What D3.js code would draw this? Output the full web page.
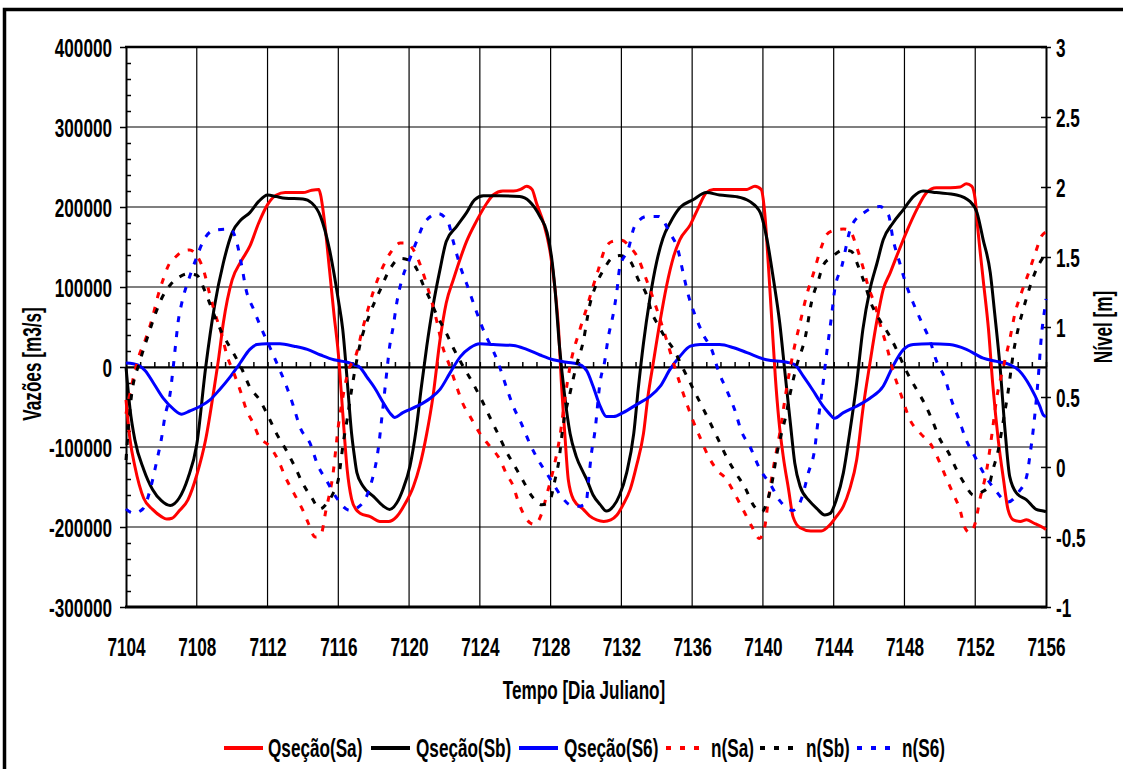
<!DOCTYPE html>
<html><head><meta charset="utf-8">
<script src="https://cdn.jsdelivr.net/npm/d3@7"></script>
<style>
body{margin:0;background:#fff}
svg{display:block}
text{font-family:"Liberation Sans",Arial,sans-serif;font-weight:bold;fill:#000}
</style>
</head><body>
<svg id="c" width="1123" height="769"></svg>
<script>
// ---------------- DATA ----------------
const dayTicks = [7104,7108,7112,7116,7120,7124,7128,7132,7136,7140,7144,7148,7152,7156];
const qTicks = [-300000,-200000,-100000,0,100000,200000,300000,400000];
const nTicks = [-1,-0.5,0,0.5,1,1.5,2,2.5,3];
const seriesNames = ["Qseção(Sa)","Qseção(Sb)","Qseção(S6)","n(Sa)","n(Sb)","n(S6)"];

// Qseção(Sa) [day, m3/s]
const qSa = [[7104,-41000],[7104.23,-91000],[7104.5,-124000],[7105,-164000],[7105.5,-178000],[7106,-187000],[7106.3,-190000],[7106.6,-189000],[7107,-180000],[7107.5,-166000],[7108,-135000],[7108.5,-91000],[7109,-24000],[7109.25,13000],[7109.5,55000],[7110,109000],[7110.5,132000],[7111,151000],[7111.5,180000],[7112,203000],[7112.5,215000],[7113,218000],[7113.5,218000],[7114,218000],[7114.5,221000],[7114.9,222000],[7115,215000],[7115.25,176000],[7115.5,122000],[7115.75,67000],[7116,17000],[7116.25,-57000],[7116.5,-128000],[7116.75,-165000],[7117,-178000],[7117.25,-183000],[7117.8,-187000],[7118.35,-193000],[7118.85,-193000],[7119.3,-187000],[7119.75,-172000],[7120.25,-149000],[7120.6,-124000],[7121,-83000],[7121.35,-37000],[7121.75,34000],[7122.1,80000],[7122.5,109000],[7122.9,136000],[7123.25,157000],[7123.8,182000],[7124.4,205000],[7124.75,215000],[7125.3,220000],[7125.9,220000],[7126.3,222000],[7126.65,226000],[7126.95,222000],[7127.2,205000],[7127.6,180000],[7127.95,147000],[7128.25,97000],[7128.45,47000],[7128.6,-16000],[7128.8,-83000],[7129,-141000],[7129.3,-166000],[7129.85,-178000],[7130.2,-186000],[7130.6,-191000],[7131,-193000],[7131.4,-191000],[7131.75,-185000],[7132.1,-172000],[7132.5,-153000],[7132.85,-124000],[7133.25,-83000],[7133.5,-37000],[7133.8,5000],[7134.2,59000],[7134.55,101000],[7134.95,138000],[7135.3,159000],[7135.9,178000],[7136.35,199000],[7136.8,218000],[7137.2,222000],[7138.1,222000],[7139.1,222000],[7139.55,226000],[7139.9,222000],[7140.1,193000],[7140.3,130000],[7140.5,59000],[7140.7,-12000],[7140.9,-66000],[7141.15,-112000],[7141.45,-153000],[7141.7,-187000],[7142.1,-201000],[7142.7,-205000],[7143.3,-205000],[7143.8,-197000],[7144.15,-187000],[7144.55,-174000],[7144.9,-153000],[7145.3,-116000],[7145.65,-53000],[7146.05,5000],[7146.45,59000],[7146.8,97000],[7147.2,118000],[7147.55,138000],[7148.1,168000],[7148.7,197000],[7149.25,218000],[7149.8,224000],[7150.6,224000],[7151.15,225000],[7151.5,229000],[7151.8,226000],[7152,209000],[7152.15,172000],[7152.45,109000],[7152.75,47000],[7153,-24000],[7153.3,-91000],[7153.6,-141000],[7153.85,-178000],[7154.15,-191000],[7154.55,-193000],[7154.9,-191000],[7155.3,-195000],[7155.85,-201000],[7156,-203000]];

// Qseção(Sb)
const qSb = [[7104,0],[7104.23,-53000],[7104.5,-91000],[7105,-128000],[7105.5,-153000],[7106,-167000],[7106.5,-173000],[7107,-164000],[7107.5,-139000],[7108,-97000],[7108.5,-1000],[7109,76000],[7109.5,130000],[7110,168000],[7110.5,184000],[7111,193000],[7111.5,207000],[7112,215000],[7112.5,213000],[7113,211000],[7114,210000],[7114.5,205000],[7115,188000],[7115.5,147000],[7116,84000],[7116.25,47000],[7116.5,-16000],[7116.75,-83000],[7116.9,-110000],[7117.05,-132000],[7117.4,-149000],[7118,-162000],[7118.55,-174000],[7118.9,-178000],[7119.3,-170000],[7119.65,-153000],[7120.05,-124000],[7120.4,-78000],[7120.7,-24000],[7121,26000],[7121.35,76000],[7121.75,122000],[7122.1,157000],[7122.7,176000],[7123.25,193000],[7123.7,209000],[7124.2,214000],[7125.1,214000],[7126.25,213000],[7126.8,207000],[7127.4,188000],[7127.8,168000],[7128.05,138000],[7128.25,97000],[7128.5,26000],[7128.8,-37000],[7129.1,-83000],[7129.45,-112000],[7129.85,-132000],[7130.05,-141000],[7130.4,-160000],[7130.8,-172000],[7131.15,-180000],[7131.55,-174000],[7131.9,-160000],[7132.3,-132000],[7132.7,-83000],[7132.95,-28000],[7133.25,30000],[7133.6,84000],[7134,132000],[7134.35,161000],[7134.75,180000],[7135.3,199000],[7136.05,209000],[7136.8,218000],[7137.55,215000],[7138.5,213000],[7139.25,207000],[7139.85,193000],[7140.2,163000],[7140.6,109000],[7140.95,55000],[7141.25,-8000],[7141.55,-70000],[7141.8,-120000],[7142.1,-149000],[7142.65,-168000],[7143.05,-177000],[7143.5,-185000],[7143.8,-183000],[7144.15,-166000],[7144.55,-132000],[7144.9,-83000],[7145.3,-20000],[7145.65,47000],[7146.05,97000],[7146.45,130000],[7146.8,159000],[7147.35,180000],[7147.95,197000],[7148.5,213000],[7149.05,220000],[7149.8,218000],[7150.95,215000],[7151.7,207000],[7152.1,193000],[7152.45,159000],[7152.85,118000],[7153.1,67000],[7153.4,1000],[7153.7,-83000],[7153.95,-137000],[7154.35,-158000],[7154.9,-166000],[7155.45,-178000],[7155.85,-180000],[7156,-181000]];

// Qseção(S6)
const qS6 = [[7104,5000],[7104.4,4000],[7104.8,1000],[7105.1,-5000],[7105.55,-20000],[7106.1,-39000],[7106.7,-53000],[7107.15,-59000],[7107.6,-55000],[7108.2,-49000],[7108.75,-41000],[7109.3,-28000],[7109.9,-12000],[7110.45,5000],[7111,22000],[7111.4,28000],[7111.95,29000],[7112.7,29000],[7113.5,26000],[7114.25,22000],[7115,15000],[7115.75,9000],[7116.5,6000],[7116.9,3000],[7117.25,-1000],[7117.6,-12000],[7118.05,-26000],[7118.55,-45000],[7118.9,-57000],[7119.2,-63000],[7119.65,-57000],[7120.45,-49000],[7121.2,-39000],[7121.75,-28000],[7122.3,-8000],[7122.9,13000],[7123.45,24000],[7124,29000],[7124.75,28000],[7125.9,27000],[7126.65,22000],[7127.4,15000],[7128.15,9000],[7128.9,6000],[7129.65,3000],[7130.05,-5000],[7130.4,-24000],[7130.8,-49000],[7131.15,-62000],[7131.55,-62000],[7132.1,-57000],[7132.85,-47000],[7133.6,-37000],[7134.2,-24000],[7134.75,-3000],[7135.3,13000],[7135.9,26000],[7136.45,28000],[7137.55,28000],[7138.35,24000],[7139.1,18000],[7140.2,9000],[7141.35,6000],[7141.8,3000],[7142.3,-12000],[7142.85,-30000],[7143.05,-37000],[7143.4,-49000],[7143.7,-57000],[7144.05,-64000],[7144.55,-57000],[7145.3,-49000],[7146.05,-39000],[7146.8,-24000],[7147.35,1000],[7147.95,22000],[7148.5,28000],[7149.45,29000],[7150.55,28000],[7151.5,22000],[7152.45,11000],[7153.2,7000],[7153.95,3000],[7154.5,-5000],[7155.1,-24000],[7155.65,-49000],[7155.85,-60000],[7156,-62000]];

// n(Sa) [day, m]
const nSa = [[7104,0.38],[7104.75,0.8],[7105.1,0.91],[7105.5,1.07],[7105.8,1.22],[7106.1,1.34],[7106.4,1.44],[7106.8,1.5],[7107.2,1.54],[7107.6,1.55],[7108,1.51],[7108.4,1.4],[7108.7,1.25],[7109,1.11],[7109.4,0.95],[7109.7,0.8],[7110.1,0.67],[7110.5,0.53],[7110.8,0.41],[7111.2,0.31],[7111.5,0.22],[7112.1,0.15],[7112.6,0.05],[7113,-0.07],[7113.5,-0.19],[7114,-0.31],[7114.3,-0.4],[7114.7,-0.5],[7115,-0.49],[7115.3,-0.31],[7115.7,-0.05],[7116,0.29],[7116.3,0.53],[7116.6,0.7],[7116.95,0.78],[7117.4,1],[7118,1.26],[7118.45,1.41],[7119,1.54],[7119.5,1.6],[7119.8,1.6],[7120.3,1.54],[7120.7,1.42],[7121.1,1.26],[7121.55,1.05],[7121.85,0.88],[7122.3,0.72],[7122.7,0.57],[7123.05,0.45],[7123.45,0.36],[7124,0.24],[7124.55,0.15],[7125.15,0.05],[7125.5,-0.05],[7125.9,-0.14],[7126.15,-0.24],[7126.45,-0.33],[7126.85,-0.4],[7127.1,-0.41],[7127.5,-0.33],[7127.8,-0.19],[7128.15,-0.02],[7128.55,0.24],[7128.8,0.48],[7129.1,0.72],[7129.65,0.98],[7130,1.12],[7130.4,1.29],[7130.7,1.41],[7131.05,1.55],[7131.45,1.61],[7132,1.62],[7132.5,1.57],[7132.95,1.49],[7133.35,1.36],[7133.7,1.24],[7134.2,1.05],[7134.55,0.91],[7135,0.72],[7135.3,0.6],[7135.7,0.45],[7136.05,0.33],[7136.45,0.21],[7136.9,0.08],[7137.4,-0.02],[7137.95,-0.09],[7138.4,-0.19],[7138.9,-0.31],[7139.35,-0.42],[7139.8,-0.51],[7140.1,-0.43],[7140.3,-0.24],[7140.6,0],[7140.95,0.24],[7141.35,0.57],[7141.7,0.81],[7142.1,1.03],[7142.5,1.24],[7142.85,1.38],[7143.3,1.57],[7143.6,1.66],[7144,1.69],[7144.55,1.7],[7144.9,1.69],[7145.3,1.57],[7145.65,1.43],[7145.95,1.29],[7146.35,1.15],[7146.6,1.03],[7147,0.86],[7147.35,0.69],[7147.85,0.5],[7148.3,0.34],[7148.9,0.24],[7149.55,0.15],[7150,0.03],[7150.4,-0.09],[7150.75,-0.19],[7151.15,-0.31],[7151.4,-0.43],[7151.7,-0.47],[7152,-0.4],[7152.25,-0.24],[7152.65,-0.02],[7152.95,0.24],[7153.2,0.48],[7153.6,0.72],[7153.95,0.91],[7154.25,1.1],[7154.6,1.24],[7155,1.38],[7155.4,1.53],[7155.75,1.65],[7156,1.68]];

// n(Sb)
const nSb = [[7104,0.05],[7104.3,0.5],[7104.8,0.76],[7105.25,0.94],[7105.65,1.09],[7106,1.2],[7106.5,1.3],[7107.05,1.36],[7107.5,1.38],[7108,1.37],[7108.45,1.26],[7108.85,1.13],[7109.1,1.05],[7109.5,0.94],[7109.95,0.84],[7110.55,0.7],[7111,0.57],[7111.55,0.48],[7112.05,0.36],[7112.5,0.24],[7113.1,0.11],[7113.55,0],[7114,-0.12],[7114.5,-0.22],[7114.95,-0.3],[7115.35,-0.26],[7115.7,-0.19],[7116,-0.09],[7116.3,0.19],[7116.5,0.34],[7116.75,0.55],[7117.2,0.86],[7117.8,1.1],[7118.35,1.26],[7118.9,1.41],[7119.5,1.49],[7119.95,1.48],[7120.45,1.41],[7120.8,1.3],[7121.1,1.22],[7121.55,1.09],[7122.05,0.97],[7122.5,0.85],[7123.05,0.72],[7123.6,0.6],[7124.1,0.48],[7124.55,0.36],[7125.05,0.23],[7125.5,0.11],[7126,0],[7126.45,-0.1],[7126.95,-0.21],[7127.5,-0.27],[7127.95,-0.24],[7128.25,-0.09],[7128.45,0.03],[7128.7,0.29],[7129.1,0.53],[7129.45,0.72],[7129.85,0.9],[7130.2,1.15],[7130.6,1.31],[7131,1.41],[7131.45,1.49],[7131.9,1.51],[7132.5,1.47],[7132.95,1.34],[7133.45,1.22],[7133.7,1.11],[7134.1,1.01],[7134.45,0.93],[7134.95,0.84],[7135.5,0.7],[7136.05,0.56],[7136.65,0.41],[7137.5,0.19],[7137.95,0.07],[7138.5,-0.05],[7139,-0.15],[7139.45,-0.27],[7139.95,-0.32],[7140.2,-0.26],[7140.5,-0.12],[7140.8,0.1],[7141.05,0.24],[7141.25,0.34],[7141.55,0.53],[7141.9,0.72],[7142.4,0.93],[7142.75,1.18],[7143.15,1.34],[7143.4,1.44],[7143.9,1.5],[7144.55,1.55],[7145,1.54],[7145.4,1.43],[7145.75,1.31],[7146.05,1.19],[7146.6,1.05],[7147.1,0.95],[7147.55,0.84],[7148.05,0.7],[7148.7,0.55],[7149.15,0.45],[7149.55,0.34],[7150,0.2],[7150.5,0.1],[7150.95,-0.02],[7151.4,-0.12],[7151.9,-0.2],[7152.35,-0.18],[7152.75,-0.14],[7153,-0.02],[7153.3,0.12],[7153.6,0.34],[7153.85,0.53],[7154.15,0.81],[7154.45,1],[7154.7,1.12],[7155.1,1.29],[7155.45,1.41],[7155.85,1.5],[7156,1.53]];

// n(S6)
const nS6 = [[7104,-0.3],[7104.4,-0.33],[7104.95,-0.3],[7105.45,-0.12],[7105.75,0.05],[7106,0.2],[7106.2,0.36],[7106.5,0.53],[7106.65,0.69],[7106.8,0.87],[7106.95,1.04],[7107.15,1.17],[7107.6,1.36],[7108,1.5],[7108.35,1.61],[7108.95,1.69],[7109.9,1.7],[7110.25,1.61],[7110.55,1.43],[7110.8,1.26],[7111.2,1.13],[7111.65,0.99],[7112.15,0.85],[7112.6,0.72],[7113,0.6],[7113.45,0.44],[7113.85,0.28],[7114.4,0.17],[7114.85,0.01],[7115.35,-0.1],[7115.9,-0.22],[7116.65,-0.31],[7117.1,-0.29],[7117.8,-0.14],[7118.3,0.17],[7118.45,0.34],[7118.75,0.69],[7118.9,0.86],[7119.1,1],[7119.3,1.17],[7119.6,1.34],[7120.05,1.49],[7120.45,1.62],[7120.9,1.75],[7121.65,1.81],[7122.2,1.75],[7122.5,1.61],[7122.9,1.43],[7123.25,1.31],[7123.75,1.13],[7124.1,1.01],[7125.05,0.74],[7125.5,0.57],[7125.9,0.43],[7126.35,0.31],[7126.85,0.16],[7127.3,0.05],[7127.8,-0.05],[7128.15,-0.12],[7128.55,-0.2],[7129.1,-0.27],[7129.6,-0.28],[7130,-0.26],[7130.15,-0.09],[7130.3,0.09],[7130.5,0.25],[7130.8,0.61],[7131.05,0.75],[7131.25,0.92],[7131.55,1.1],[7131.75,1.26],[7131.9,1.42],[7132.4,1.56],[7132.75,1.72],[7133.45,1.79],[7134.1,1.79],[7134.75,1.67],[7135.2,1.55],[7135.5,1.38],[7135.8,1.22],[7136.15,1.09],[7136.65,0.94],[7137.1,0.84],[7137.5,0.68],[7137.95,0.55],[7138.4,0.41],[7138.8,0.25],[7139.25,0.15],[7139.85,-0.02],[7140.4,-0.12],[7140.95,-0.24],[7141.7,-0.31],[7142.2,-0.22],[7142.55,-0.05],[7142.95,0.15],[7143.05,0.26],[7143.4,0.6],[7143.6,0.81],[7143.9,1.1],[7144.05,1.26],[7144.45,1.43],[7145,1.72],[7145.75,1.82],[7146.6,1.86],[7147.1,1.8],[7147.35,1.63],[7147.75,1.45],[7148.05,1.32],[7148.5,1.17],[7148.95,1.04],[7149.45,0.9],[7149.8,0.76],[7150.3,0.63],[7150.65,0.48],[7151.05,0.35],[7151.5,0.19],[7152,0.07],[7152.55,-0.06],[7153.1,-0.16],[7153.85,-0.25],[7154.45,-0.18],[7154.9,-0.07],[7155.1,0.09],[7155.3,0.29],[7155.55,0.62],[7155.75,0.95],[7155.95,1.15],[7156,1.2]];

// ---------------- CHART ----------------
const FS = 26, SX = 0.66;
const svg = d3.select("#c");
const L = 126, R = 1046, T = 47, B = 607;
const x = d3.scaleLinear().domain([7104,7156]).range([L,R]);
const yQ = d3.scaleLinear().domain([-300000,400000]).range([B,T]);
const yN = d3.scaleLinear().domain([-1,3]).range([B,T]);

// outer frame
svg.append("rect").attr("x",4.5).attr("y",9.5).attr("width",1300).attr("height",900)
  .attr("fill","none").attr("stroke","#000").attr("stroke-width",3.5);

function label(x0,y0,s,anchor,rot){
  svg.append("text").attr("transform",`translate(${x0},${y0})${rot?` rotate(${rot})`:""} scale(${SX},1)`)
    .attr("text-anchor",anchor).attr("font-size",FS).text(s);
}

// gridlines
const grid = svg.append("g").attr("stroke","#000").attr("stroke-width",1.2);
grid.selectAll("line.h").data(qTicks.filter(d=>d>-300000&&d<400000)).join("line")
  .attr("x1",L).attr("x2",R).attr("y1",d=>yQ(d)).attr("y2",d=>yQ(d));
grid.selectAll("line.v").data(dayTicks.filter(d=>d>7104&&d<7156)).join("line")
  .attr("y1",T).attr("y2",B).attr("x1",d=>x(d)).attr("x2",d=>x(d));

// left axis: major ticks outward, minor inward
const gL = svg.append("g").attr("transform",`translate(${L},0)`)
  .call(d3.axisLeft(yQ).tickValues(qTicks).tickSize(6).tickSizeOuter(0).tickFormat(d=>String(d)));
gL.select(".domain").attr("stroke-width",2);
gL.selectAll("line").attr("stroke-width",1.5);
gL.selectAll("text").attr("x",null).attr("dy",null).attr("font-size",FS)
  .attr("transform",`translate(-14,9.3) scale(${SX},1)`);
gL.attr("font-family",null).attr("font-size",null);
const minorQ = d3.range(-300000,400001,20000).filter(v=>v%100000!==0);
svg.append("g").attr("transform",`translate(${L},0)`)
  .call(d3.axisRight(yQ).tickValues(minorQ).tickSize(5).tickFormat(""))
  .call(g=>g.select(".domain").remove())
  .selectAll("line").attr("stroke-width",1.5);

// right axis
const gR = svg.append("g").attr("transform",`translate(${R},0)`)
  .call(d3.axisRight(yN).tickValues(nTicks).tickSize(5).tickSizeOuter(0).tickFormat(d=>String(d)));
gR.select(".domain").attr("stroke-width",2);
gR.selectAll("line").attr("x1",-5).attr("stroke-width",1.5);
gR.selectAll("text").attr("x",null).attr("dy",null).attr("font-size",FS)
  .attr("transform",`translate(10,9.3) scale(${SX},1)`);
gR.attr("font-family",null).attr("font-size",null);

// category axis crossing at Q = 0 with minor ticks
const gX = svg.append("g").attr("transform",`translate(0,${yQ(0)})`)
  .call(d3.axisTop(x).tickValues(d3.range(7104,7156.01,0.8)).tickSize(5).tickSizeOuter(0).tickFormat(""));
gX.select(".domain").attr("stroke-width",2);
gX.selectAll("line").attr("stroke-width",1.5);

// bottom labels (low position)
const gB = svg.append("g").attr("transform",`translate(0,${B})`)
  .call(d3.axisBottom(x).tickValues(dayTicks).tickSize(0).tickSizeOuter(0).tickFormat(d=>String(d)));
gB.select(".domain").remove();
gB.selectAll("text").attr("y",null).attr("dy",null).attr("font-size",FS)
  .attr("transform",`translate(0,49) scale(${SX},1)`);
gB.attr("font-family",null).attr("font-size",null);

// plot frame top/bottom
svg.append("line").attr("x1",L-1).attr("x2",R+1).attr("y1",T).attr("y2",T).attr("stroke","#000").attr("stroke-width",2.5);
svg.append("line").attr("x1",L-1).attr("x2",R+1).attr("y1",B).attr("y2",B).attr("stroke","#000").attr("stroke-width",3);

// series
const colors = ["#ff0000","#000000","#0000ff","#ff0000","#000000","#0000ff"];
const lineQ = d3.line().x(d=>x(d[0])).y(d=>yQ(d[1])).curve(d3.curveMonotoneX);
const lineN = d3.line().x(d=>x(d[0])).y(d=>yN(d[1])).curve(d3.curveMonotoneX);
const plot = svg.append("g");
[qSa,qSb,qS6].forEach((s,i)=>{
  plot.append("path").attr("d",lineQ(s)).attr("fill","none").attr("stroke",colors[i])
    .attr("stroke-width",3).attr("stroke-linejoin","round");
});
[nSa,nSb,nS6].forEach((s,i)=>{
  plot.append("path").attr("d",lineN(s)).attr("fill","none").attr("stroke",colors[i+3])
    .attr("stroke-width",3).attr("stroke-dasharray","6,9");
});

// axis titles
label(41,364,"Vazões [m3/s]","middle",-90);
label(1112,327,"Nível [m]","middle",-90);
label(584,699,"Tempo [Dia Juliano]","middle",0);

// legend
const legLineX = [224,371,519,666,760,857];
const legTextX = [268,416,564,711,806,902];
const leg = svg.append("g");
seriesNames.forEach((n,i)=>{
  leg.append("line").attr("x1",legLineX[i]).attr("x2",legLineX[i]+39).attr("y1",748).attr("y2",748)
    .attr("stroke",colors[i]).attr("stroke-width",4)
    .attr("stroke-dasharray",i>=3?"5,9":null);
  label(legTextX[i],757,n,"start",0);
});
</script>
</body></html>
